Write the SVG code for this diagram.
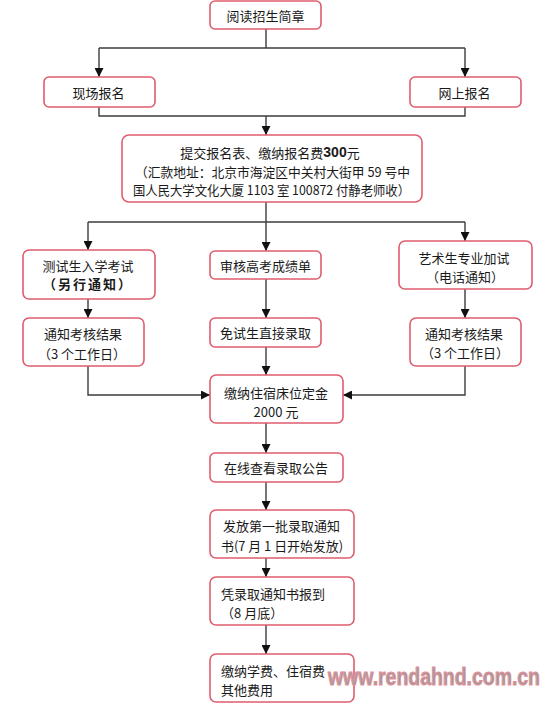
<svg xmlns="http://www.w3.org/2000/svg" width="553" height="709" viewBox="0 0 553 709">
<defs>
<marker id="arr" markerUnits="userSpaceOnUse" markerWidth="9" markerHeight="9" refX="9" refY="4.5" orient="auto">
<path d="M0,0 L9,4.5 L0,9 z" fill="#111"/>
</marker>
<style>
.box{fill:#fff;stroke:#de5d6e;stroke-width:1.6}
.t{font-family:"Noto Sans CJK SC","Noto Sans CJK JP",sans-serif;font-size:13px;fill:#1a1a1a;dominant-baseline:central}
.c{text-anchor:middle}
.s{text-anchor:start}
.ln{fill:none;stroke:#3c3c3c;stroke-width:1.4}
.a{marker-end:url(#arr)}
.wm{font-family:"Liberation Sans",Arial,sans-serif;font-weight:bold;font-size:23px;fill:#9c9c9c;stroke:#e8909a;stroke-width:1}
</style>
</defs>
<rect width="553" height="709" fill="#fff"/>
<g id="connectors">
<path class="ln" d="M266 29 V48 M99 48 H465"/>
<path class="ln a" d="M99 48 V77"/>
<path class="ln a" d="M465 48 V77"/>
<path class="ln" d="M99 107 V116 H465 V107"/>
<path class="ln a" d="M266 116 V135"/>
<path class="ln" d="M88 222 H465"/>
<path class="ln a" d="M266 202 V251"/>
<path class="ln a" d="M88 222 V250"/>
<path class="ln a" d="M465 222 V241"/>
<path class="ln a" d="M88 299 V318"/>
<path class="ln a" d="M266 279 V318"/>
<path class="ln a" d="M465 289 V318"/>
<path class="ln a" d="M88 366 V395 H210"/>
<path class="ln a" d="M465 366 V395 H343"/>
<path class="ln a" d="M266 347 V375"/>
<path class="ln a" d="M266 423 V453"/>
<path class="ln a" d="M266 482 V510"/>
<path class="ln a" d="M266 558 V577"/>
<path class="ln a" d="M266 625 V654"/>
</g>
<g id="n1"><rect class="box" x="210" y="1" width="111" height="28" rx="5"/><text class="t c" x="265.5" y="15">阅读招生简章</text></g>
<g id="n2"><rect class="box" x="44" y="77" width="111" height="30" rx="5"/><text class="t c" x="98.5" y="92">现场报名</text></g>
<g id="n3"><rect class="box" x="410" y="77" width="111" height="30" rx="5"/><text class="t c" x="464.5" y="92">网上报名</text></g>
<g id="n4"><rect class="box" x="122" y="135" width="300" height="67" rx="7"/>
<text class="t c" x="270" y="152">提交报名表、缴纳报名费<tspan font-family="Liberation Sans,Arial,sans-serif" font-weight="bold" font-size="14">300</tspan>元</text>
<text class="t s" x="135" y="171" font-size="12.5" textLength="275" lengthAdjust="spacingAndGlyphs">（汇款地址：北京市海淀区中关村大街甲 59 号中</text>
<text class="t s" x="133" y="189" font-size="12.5" textLength="277" lengthAdjust="spacingAndGlyphs">国人民大学文化大厦 1103 室  100872 付静老师收）</text>
</g>
<g id="n5"><rect class="box" x="23" y="250" width="132" height="49" rx="6"/>
<text class="t c" x="88" y="265">测试生入学考试</text>
<text class="t c" x="88" y="283" font-weight="bold" letter-spacing="2">（另行通知）</text></g>
<g id="n6"><rect class="box" x="210" y="251" width="111" height="28" rx="5"/><text class="t c" x="265.5" y="265">审核高考成绩单</text></g>
<g id="n7"><rect class="box" x="399" y="241" width="133" height="48" rx="6"/>
<text class="t c" x="464" y="257">艺术生专业加试</text>
<text class="t c" x="465" y="276">（电话通知）</text></g>
<g id="n8"><rect class="box" x="23" y="318" width="121" height="48" rx="6"/>
<text class="t c" x="83" y="333">通知考核结果</text>
<text class="t c" x="82" y="353">（3 个工作日）</text></g>
<g id="n9"><rect class="box" x="210" y="318" width="111" height="29" rx="5"/><text class="t c" x="265.5" y="332.5">免试生直接录取</text></g>
<g id="n10"><rect class="box" x="410" y="318" width="111" height="48" rx="6"/>
<text class="t c" x="464" y="333">通知考核结果</text>
<text class="t c" x="465" y="352">（3 个工作日）</text></g>
<g id="n11"><rect class="box" x="210" y="375" width="133" height="48" rx="6"/>
<text class="t c" x="276" y="392">缴纳住宿床位定金</text>
<text class="t c" x="276" y="411">2000 元</text></g>
<g id="n12"><rect class="box" x="210" y="453" width="133" height="29" rx="5"/><text class="t c" x="276" y="467.5">在线查看录取公告</text></g>
<g id="n13"><rect class="box" x="210" y="510" width="144" height="48" rx="6"/>
<text class="t s" x="223" y="525">发放第一批录取通知</text>
<text class="t s" x="221" y="545" textLength="122" lengthAdjust="spacingAndGlyphs">书(7 月 1 日开始发放)</text></g>
<g id="n14"><rect class="box" x="210" y="577" width="144" height="48" rx="6"/>
<text class="t s" x="221" y="593">凭录取通知书报到</text>
<text class="t s" x="221" y="612">（8 月底）</text></g>
<g id="n15"><rect class="box" x="210" y="654" width="144" height="48" rx="6"/>
<text class="t s" x="221" y="670">缴纳学费、住宿费</text>
<text class="t s" x="221" y="689">其他费用</text></g>
<text class="wm" x="328" y="685" textLength="212" lengthAdjust="spacingAndGlyphs">www.rendahnd.com.cn</text>
</svg>
